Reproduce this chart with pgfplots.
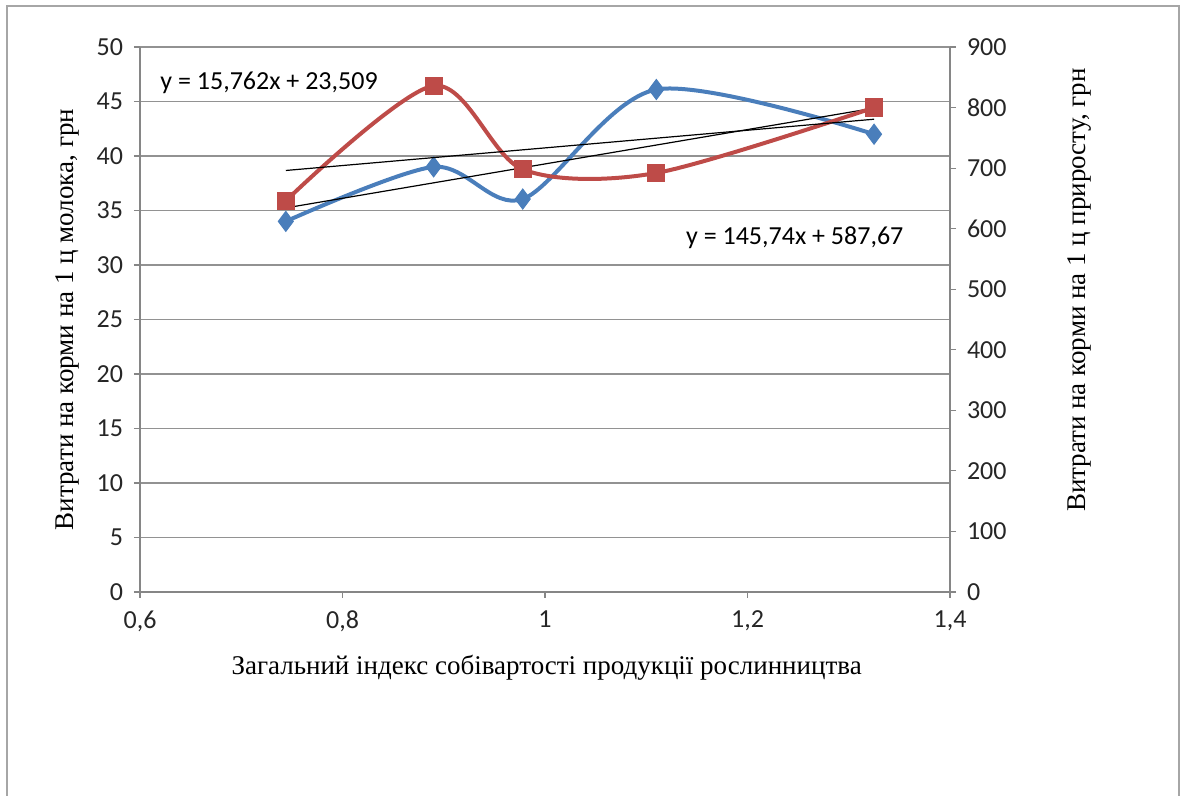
\documentclass[border=0pt]{standalone}
\usepackage{fontspec}
\setmainfont{Liberation Serif}
\newfontfamily\calibri{Carlito}
\usepackage{pgfplots}
\pgfplotsset{compat=1.18}
\definecolor{xlblue}{HTML}{4A7EBB}
\definecolor{xlred}{HTML}{BE4B48}
\definecolor{axgray}{HTML}{868686}
\definecolor{framegray}{HTML}{A6A6A6}
\begin{document}
\begin{tikzpicture}
\useasboundingbox (-70pt,-102pt) rectangle (521pt,296pt);
\draw[framegray, line width=0.8pt] (-66.5pt,-110pt) -- (-66.5pt,293pt) -- (519.5pt,293pt) -- (519.5pt,-110pt);
\pgfplotsset{
  base/.style={
    scale only axis, width=405pt, height=272.5pt,
    at={(0,0)}, anchor=south west,
    xmin=0.6, xmax=1.4,
    xtick={0.6,0.8,1,1.2,1.4},
    /pgf/number format/use comma,
    /pgf/number format/assume math mode=true,
    tick label style={font=\calibri\fontsize{13}{15}\selectfont, text=black!85},
    tick align=outside,
    major tick length=3pt,
    every tick/.style={axgray, line width=0.6pt},
    axis line style={axgray, line width=0.6pt},
    label style={font=\fontsize{13.5}{15}\selectfont},
    clip=false,
  }
}
\begin{axis}[base,
  axis x line*=bottom, axis y line*=left,
  ymin=0, ymax=50, ytick={0,5,...,50},
  ymajorgrids, grid style={axgray!90, line width=0.6pt},
  xtick pos=bottom, ytick pos=left,
  xticklabel style={yshift=-3pt},
  yticklabel style={xshift=-2pt},
  xlabel={Загальний індекс собівартості продукції рослинництва},
  xlabel style={at={(axis description cs:0.502,-0.139)}, anchor=center},
  ylabel={Витрати на корми на 1 ц молока, грн},
  ylabel style={at={(axis description cs:-0.089,0.5)}, anchor=center, rotate=0},
]
\addplot[xlblue, line width=2pt, smooth, tension=0.5, mark=diamond*, mark size=5pt, mark options={fill=xlblue, draw=xlblue, line width=0.5pt}]
  coordinates {(0.744,34.0) (0.890,39.0) (0.978,36.05) (1.110,46.1) (1.325,42.0)};
\addplot[black, line width=0.6pt] coordinates {(0.744,35.236) (1.325,44.394)};
\node[anchor=west, font=\calibri\fontsize{13}{15}\selectfont, inner sep=0pt] at (axis cs:0.6198,46.7) {y = 15,762x + 23,509};
\node[anchor=west, font=\calibri\fontsize{13}{15}\selectfont, inner sep=0pt] at (axis cs:1.139,32.5) {y = 145,74x + 587,67};
\end{axis}
\begin{axis}[base,
  axis x line=none, axis y line*=right,
  ymin=0, ymax=900, ytick={0,100,...,900},
  ytick pos=right,
  yticklabel style={xshift=2pt},
  ylabel={Витрати на корми на 1 ц приросту, грн},
  ylabel style={at={(axis description cs:1.160,0.554)}, anchor=center, rotate=0},
]
\addplot[xlred, line width=2pt, smooth, tension=0.5, mark=square*, mark size=4.3pt, mark options={fill=xlred, draw=xlred, line width=0.5pt}]
  coordinates {(0.744,646) (0.890,836) (0.978,698) (1.110,692) (1.325,800)};
\addplot[black, line width=0.6pt] coordinates {(0.744,696.10) (1.325,780.77)};
\end{axis}
\end{tikzpicture}
\end{document}
